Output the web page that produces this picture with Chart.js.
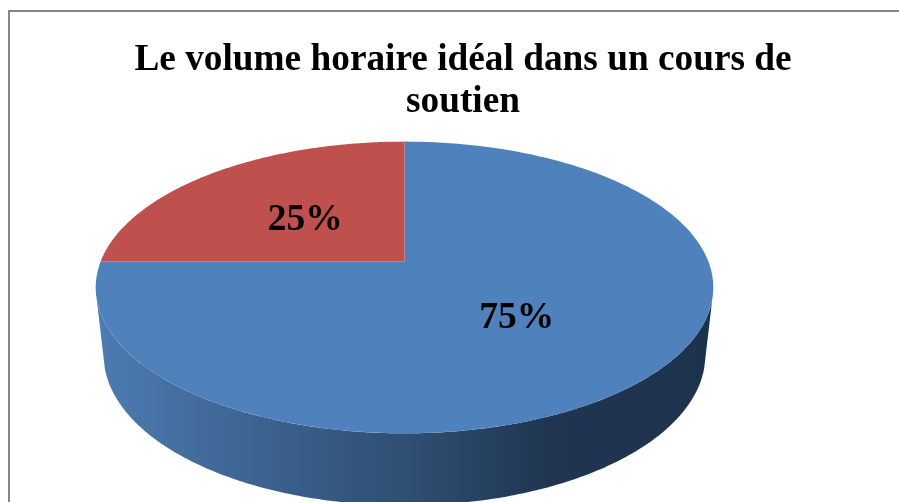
<!DOCTYPE html>
<html>
<head>
<meta charset="utf-8">
<script src="https://cdn.jsdelivr.net/npm/chart.js@4"></script>
<style>
    html, body { margin: 0; padding: 0; background: #fff; overflow: hidden; }
    canvas { display: block; }
</style>
</head>
<body>
<canvas id="pie-chart" width="899" height="502"></canvas>
<script>
const categories = ["Réponse A", "Réponse B"];
const values = [75, 25];
const sliceColors = ["#4F81BD", "#C0504D"];
const titleLines = ["Le volume horaire idéal dans un cours de", "soutien"];

// the pie sits left of the title, the frame had a legend on its right once
const shiftX = -58.5;
const tiltX = 2.21;
const tiltY = 1.027;
const perspective = -0.178;
const wallDrop = 67;
const wallNarrow = 0.974;
const wallGrow = 0.03;
const wallStart = 0.26;
const labelSpot = 0.49;
const labelDrop = 5;

// chart.js gives a flat circle, this turns an angle of it into the tilted disc
function project(arc, angle, f) {
    const u = Math.cos(angle) * f;
    const v = Math.sin(angle) * f;
    const w = 1 + perspective * v;
    return {
        x: arc.x + shiftX + arc.outerRadius * tiltX * u / w,
        y: arc.y + arc.outerRadius * tiltY * v / w
    };
}

function projectWall(arc, angle) {
    const p = project(arc, angle, 1);
    const mid = arc.x + shiftX;
    return {
        x: mid + (p.x - mid) * wallNarrow,
        y: p.y + wallDrop + (p.y - arc.y) * wallGrow
    };
}

Chart.ArcElement.prototype.draw = function (ctx) {
    const steps = 160;
    const start = this.startAngle;
    const end = this.endAngle;
    const centre = project(this, 0, 0);
    ctx.save();
    ctx.beginPath();
    ctx.moveTo(centre.x, centre.y);
    for (let i = 0; i <= steps; i++) {
        const p = project(this, start + (end - start) * i / steps, 1);
        ctx.lineTo(p.x, p.y);
    }
    ctx.closePath();
    ctx.fillStyle = this.options.backgroundColor;
    ctx.fill();
    ctx.restore();
};

const framePlugin = {
    id: 'frame',
    beforeDraw(chart) {
        const ctx = chart.ctx;
        ctx.save();
        ctx.fillStyle = '#fff';
        ctx.fillRect(0, 0, chart.width, chart.height);
        ctx.strokeStyle = '#868686';
        ctx.lineWidth = 2;
        ctx.strokeRect(9, 11, chart.width + 50, chart.height + 50);
        ctx.restore();
    }
};

const wallPlugin = {
    id: 'wall',
    beforeDatasetsDraw(chart) {
        const ctx = chart.ctx;
        const arc = chart.getDatasetMeta(0).data[0];
        const steps = 200;
        const a0 = wallStart;
        const a1 = Math.PI - wallStart;
        const left = project(arc, Math.PI, 1).x - 6;
        const right = project(arc, 0, 1).x + 6;
        const grad = ctx.createLinearGradient(left, 0, right, 0);
        grad.addColorStop(0, '#4d7cb3');
        grad.addColorStop(0.27, '#3c628f');
        grad.addColorStop(0.5, '#2f4f73');
        grad.addColorStop(0.74, '#1f3551');
        grad.addColorStop(1, '#1d324d');
        ctx.save();
        ctx.beginPath();
        for (let i = 0; i <= steps; i++) {
            const p = project(arc, a0 + (a1 - a0) * i / steps, 1);
            ctx.lineTo(p.x, p.y);
        }
        for (let i = steps; i >= 0; i--) {
            const p = projectWall(arc, a0 + (a1 - a0) * i / steps);
            ctx.lineTo(p.x, p.y);
        }
        ctx.closePath();
        ctx.fillStyle = grad;
        ctx.fill();
        ctx.restore();
    }
};

const labelPlugin = {
    id: 'sliceLabels',
    afterDatasetsDraw(chart) {
        const ctx = chart.ctx;
        ctx.save();
        ctx.font = 'bold 37.5px "Liberation Serif"';
        ctx.fillStyle = '#000';
        ctx.textAlign = 'center';
        ctx.textBaseline = 'middle';
        chart.getDatasetMeta(0).data.forEach((arc, i) => {
            const p = project(arc, (arc.startAngle + arc.endAngle) / 2, labelSpot);
            ctx.fillText(values[i] + '%', p.x, p.y + labelDrop);
        });
        ctx.restore();
    }
};

new Chart(document.getElementById("pie-chart"), {
    type: 'pie',
    data: {
        labels: categories,
        datasets: [
            {
                data: values,
                backgroundColor: sliceColors,
                borderWidth: 0
            }
        ]
    },
    options: {
        responsive: false,
        animation: false,
        layout: { padding: { left: 27, bottom: 103 } },
        plugins: {
            legend: { display: false },
            tooltip: { enabled: false },
            title: {
                display: true,
                text: titleLines,
                color: '#000',
                font: { family: '"Liberation Serif"', size: 37.3, weight: 'bold', lineHeight: 1.126 },
                padding: { top: 39, bottom: 1 }
            }
        }
    },
    plugins: [framePlugin, wallPlugin, labelPlugin]
});
</script>
</body>
</html>
